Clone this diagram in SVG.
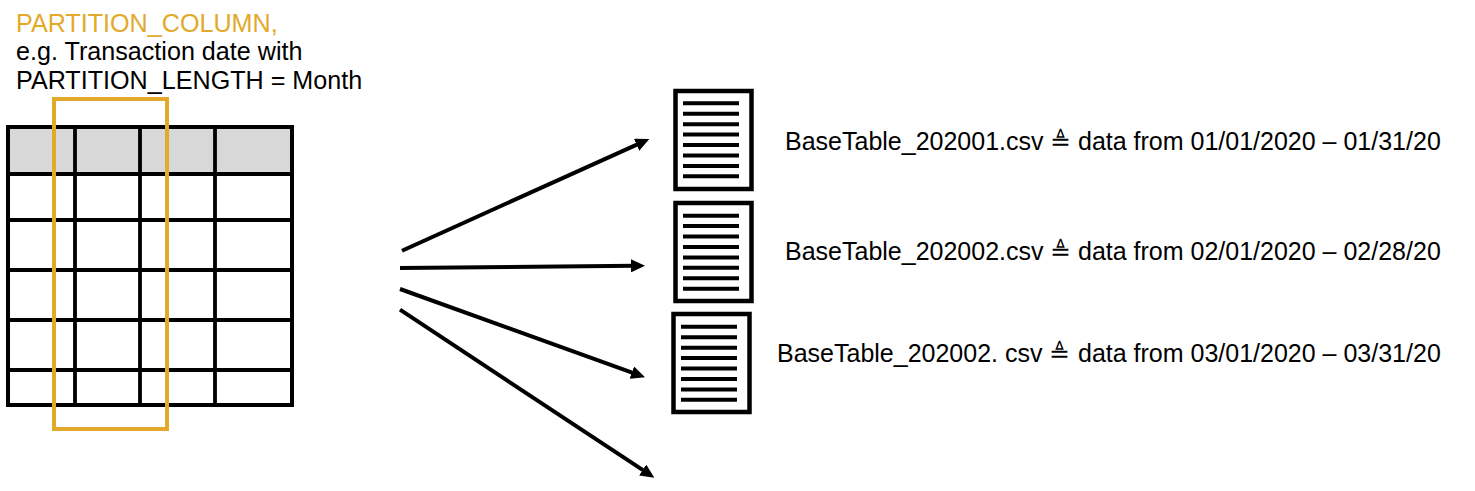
<svg xmlns="http://www.w3.org/2000/svg" width="1475" height="491" viewBox="0 0 1475 491">
<style>
text{font-family:"Liberation Sans",Arial,sans-serif;font-size:25px;fill:#000}
.h{font-size:25.150px}
.o{fill:#e2aa2a}
.g{stroke:#000;stroke-width:3.800;fill:none}
.a{stroke:#000;stroke-width:4;fill:none;marker-end:url(#ah)}
.d{fill:#fff;stroke:#000;stroke-width:4.500}
.l{stroke:#000;stroke-width:4;fill:none}
</style>
<defs>
<marker id="ah" markerUnits="userSpaceOnUse" markerWidth="14" markerHeight="13" refX="4" refY="6.500" orient="auto" viewBox="0 0 14 13"><path d="M0 0L14 6.500L0 13Z" fill="#000"/></marker>
<path id="lines" d="M683 103.3h56M683 113.7h56M683 124.2h56M683 134.6h56M683 145h56M683 155.4h56M683 165.9h56M683 176.3h56" class="l"/>
</defs>
<rect width="1475" height="491" fill="#fff"/>
<g id="label"><text class="o h" x="16" y="32">PARTITION_COLUMN,</text><text class="h" x="16" y="60">e.g. Transaction date with</text><text class="h" x="16" y="89">PARTITION_LENGTH = Month</text></g>
<g id="table">
<rect x="8.500" y="127" width="283.500" height="47" fill="#d8d8d8"/>
<path class="g" d="M75 127V405M140 127V405M215 127V405M8 174H292M8 220H292M8 270H292M8 320H292M8 370H292"/>
<rect x="8" y="127" width="284" height="278" fill="none" stroke="#000" stroke-width="4"/>
</g>
<g id="partition"><rect x="54" y="99" width="113" height="330" fill="none" stroke="#e2aa2a" stroke-width="4"/></g>
<g id="connectors">
<path class="a" d="M402 250.700L640.200 143.100"/>
<path class="a" d="M400 268L635 265.800"/>
<path class="a" d="M400 289L635.600 373.900"/>
<path class="a" d="M400 309.700L646 472.200"/>
</g>
<g id="doc1"><rect class="d" x="675.500" y="91" width="76" height="98"/><use href="#lines"/></g>
<g id="doc2"><rect class="d" x="675.500" y="203" width="76" height="98"/><use href="#lines" y="112.400"/></g>
<g id="doc3"><rect class="d" x="673.500" y="314" width="76" height="98"/><use href="#lines" x="-2" y="223.500"/></g>
<g id="t1"><text x="785" y="150">BaseTable_202001.csv ≜ <tspan x="1078">data from 01/01/2020 – 01/31/20</tspan></text></g>
<g id="t2"><text x="785" y="260">BaseTable_202002.csv ≜ <tspan x="1078">data from 02/01/2020 – 02/28/20</tspan></text></g>
<g id="t3"><text x="777" y="362">BaseTable_202002. csv ≜ <tspan x="1078">data from 03/01/2020 – 03/31/20</tspan></text></g>
</svg>
